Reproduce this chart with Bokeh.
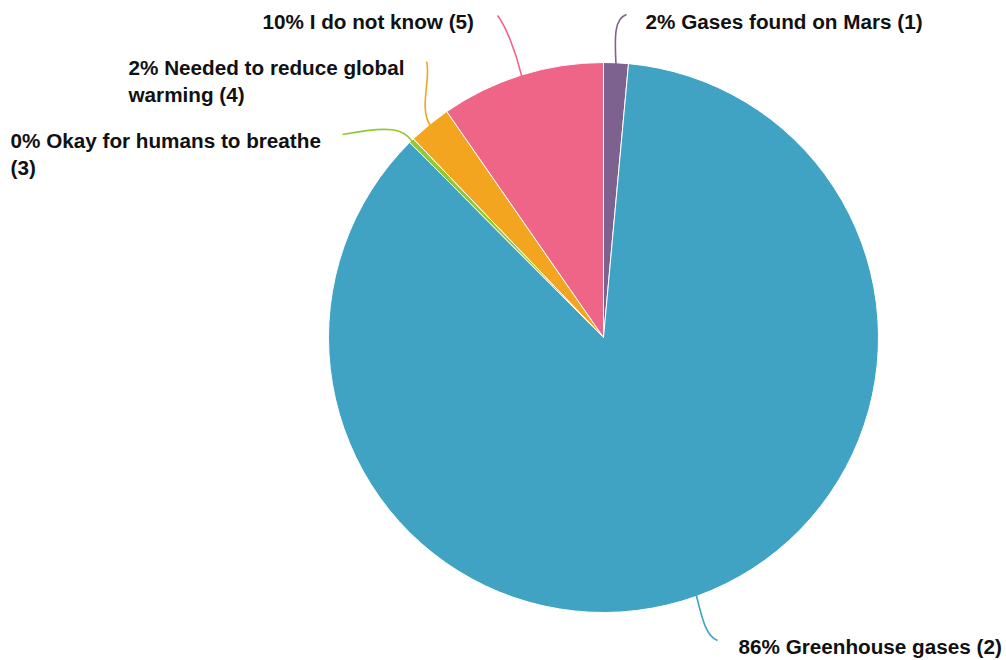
import math
from bokeh.plotting import figure
from bokeh.models import Range1d, ColumnDataSource
from bokeh.core.properties import value
from bokeh.embed import file_html
from bokeh.resources import INLINE

# ---- data ----
categories = ["Gases found on Mars", "Greenhouse gases", "Okay for humans to breathe",
              "Needed to reduce global warming", "I do not know"]
codes = [1, 2, 3, 4, 5]
shares = [1.45, 86.1, 0.3, 2.5, 9.65]          # percent of answers
pct_labels = ["2%", "86%", "0%", "2%", "10%"]
colors = ["#7D6290", "#40A3C3", "#93C834", "#F3A51F", "#EF6587"]

# ---- layout ----
W, H = 1006, 660
def sy(y):  # screen y -> plot y (up)
    return H - y
def sx(x):
    return x

cx, cy, R = sx(603), sy(337), 275

total = sum(shares)
starts, ends, mids = [], [], []
acc = 0.0
for s in shares:
    a0 = math.pi / 2 - 2 * math.pi * acc / total
    acc += s
    a1 = math.pi / 2 - 2 * math.pi * acc / total
    starts.append(a0); ends.append(a1); mids.append((a0 + a1) / 2)

p = figure(width=W, height=H, output_backend="svg", toolbar_location=None,
           x_range=Range1d(0, W), y_range=Range1d(0, H), min_border=0)
p.axis.visible = False
p.grid.visible = False
p.outline_line_color = None
p.background_fill_color = "white"

src = ColumnDataSource(dict(x=[cx] * len(shares), y=[cy] * len(shares),
                            start=ends, end=starts, color=colors))
p.wedge(x="x", y="y", radius=R, start_angle="start", end_angle="end",
        direction="anticlock", fill_color="color", line_color="white",
        line_width=1, source=src)

# label text lines (screen coords: left x, centre y of each line)
label_lines = [
    [f"{pct_labels[0]} {categories[0]} ({codes[0]})"],
    [f"{pct_labels[1]} {categories[1]} ({codes[1]})"],
    [f"{pct_labels[2]} Okay for humans to breathe", f"({codes[2]})"],
    [f"{pct_labels[3]} Needed to reduce global", f"warming ({codes[3]})"],
    [f"{pct_labels[4]} {categories[4]} ({codes[4]})"],
]
label_pos = [(645, 21), (738, 646), (10, 140), (128, 67), (262, 21)]
line_h = 27

tx, ty, tt = [], [], []
for lines, (lx, ly) in zip(label_lines, label_pos):
    for k, t in enumerate(lines):
        tx.append(sx(lx)); ty.append(sy(ly + k * line_h)); tt.append(t)
p.text(x=tx, y=ty, text=tt, text_font=value("Liberation Sans"),
       text_font_style="bold", text_font_size="20.7px", text_baseline="middle",
       text_align="left", text_color="#111111")

# leader lines: start on slice edge at mid angle, control/end points in screen coords
leader_ctrl = [
    ((614, 35), (614, 18), (626, 14)),
    ((702, 620), (706, 636), (717, 640)),
    ((403, 128), (390, 125), (342, 134)),
    ((418, 108), (431, 76), (426, 61)),
    ((515, 50), (505, 25), (497, 15)),
]
x0s, y0s, x1s, y1s, c0x, c0y, c1x, c1y = [], [], [], [], [], [], [], []
for i, m in enumerate(mids):
    ex, ey = cx + (R - 1) * math.cos(m), cy + (R - 1) * math.sin(m)
    (ax, ay), (bx, by), (qx, qy) = leader_ctrl[i]
    x0s.append(ex); y0s.append(ey)
    c0x.append(sx(ax)); c0y.append(sy(ay))
    c1x.append(sx(bx)); c1y.append(sy(by))
    x1s.append(sx(qx)); y1s.append(sy(qy))
p.bezier(x0=x0s, y0=y0s, x1=x1s, y1=y1s, cx0=c0x, cy0=c0y, cx1=c1x, cy1=c1y,
         line_color=colors, line_width=1.6)

open("out.html", "w").write(file_html(p, INLINE))
